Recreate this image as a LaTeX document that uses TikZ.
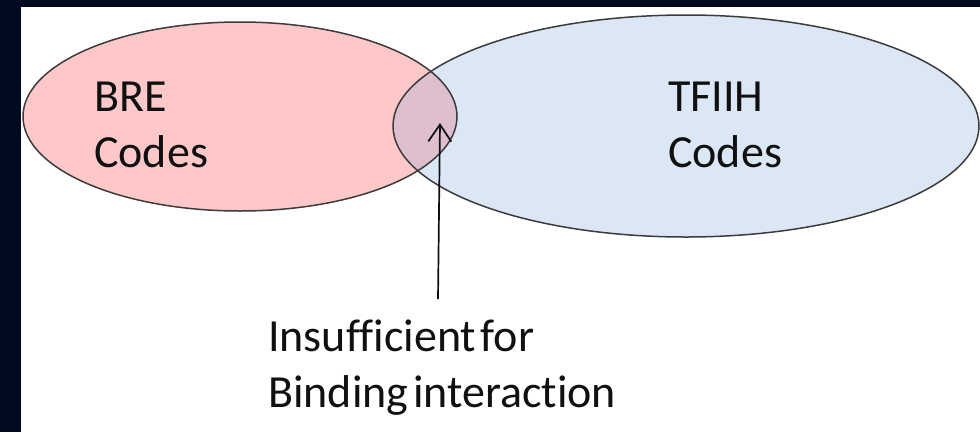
\documentclass[tikz,border=0pt]{standalone}
\usepackage{fontspec}
\setmainfont[Ligatures=NoCommon]{Carlito}
\usetikzlibrary{arrows.meta}
\definecolor{frame}{HTML}{000B21}
\definecolor{brefill}{HTML}{FFC8C8}
\definecolor{tffill}{HTML}{DBE7F5}
\definecolor{lensfill}{HTML}{DDBFCF}
\definecolor{outline}{HTML}{3C3C3C}
\definecolor{ink}{HTML}{101010}
% narrow interword space for the note
\newcommand\narrowspaces{\spaceskip=0.1em plus 0.05em\relax}
\tikzset{
  setline/.style={draw=outline, line width=1.5pt},
  label/.style={inner sep=0pt, font=\fontsize{46}{56}\selectfont, text=ink, align=left},
  pointer/.style={draw=ink, line width=1.7pt, -{Straight Barb[length=17pt,width=23pt,line width=1.7pt]}}
}
\begin{document}
\begin{tikzpicture}[x=1pt,y=-1pt]
  \useasboundingbox (0,0) rectangle (980,432);
  % slide background
  \fill[frame] (0,0) rectangle (980,432);
  \fill[white] (21,7) rectangle (980,432);
  % the two sets
  \fill[tffill] (686,126) ellipse [x radius=293, y radius=111];
  \fill[brefill] (240,116.5) ellipse [x radius=217, y radius=94.5];
  \begin{scope}
    \clip (686,126) ellipse [x radius=293, y radius=111];
    \fill[lensfill] (240,116.5) ellipse [x radius=217, y radius=94.5];
  \end{scope}
  \path[setline] (686,126) ellipse [x radius=293, y radius=111];
  \path[setline] (240,116.5) ellipse [x radius=217, y radius=94.5];
  % labels (base anchor sits on the last line)
  \node[label, anchor=base west] (bre) at (94,167) {BRE\\Codes};
  \node[label, anchor=base west] (tfiih) at (668,167) {TFIIH\\Codes};
  \node[label, anchor=base west] (note) at (268,407) {\narrowspaces Insufficient for\\\narrowspaces Binding interaction};
  % pointer into the overlap
  \coordinate (tail) at (438,299);
  \coordinate (tip) at (440,123);
  \draw[pointer] (tail) -- (tip);
\end{tikzpicture}
\end{document}
